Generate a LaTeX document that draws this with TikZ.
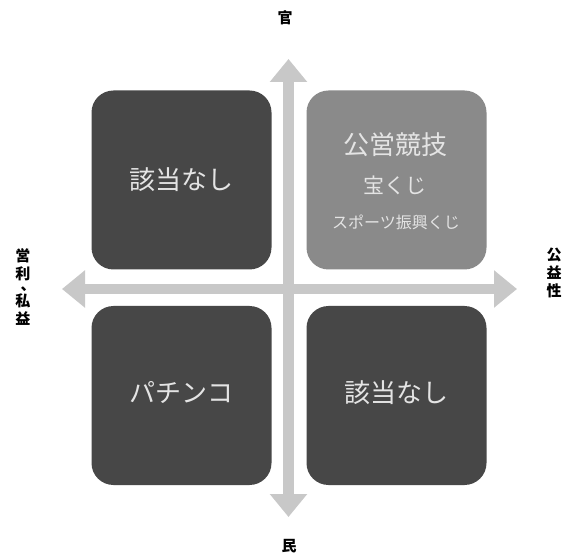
\documentclass[tikz,border=0pt]{standalone}
\usepackage{fontspec}
\setmainfont{Noto Sans CJK JP}
\usetikzlibrary{arrows.meta}
\definecolor{axisgray}{HTML}{C8C8C8}
\definecolor{darkbox}{HTML}{474747}
\definecolor{midbox}{HTML}{8A8A8A}
\definecolor{boxtext}{HTML}{E4E4E4}
\begin{document}
\begin{tikzpicture}[x=1pt,y=-1pt,
  axisline/.style={draw=axisgray,line width=11pt,
    arrows={Triangle[width=36pt,length=23pt,fill=axisgray]-Triangle[width=36pt,length=23pt,fill=axisgray]}},
  quad/.style={rounded corners=22pt,minimum width=180pt,minimum height=179pt,inner sep=0pt,text=boxtext},
  bigtxt/.style={font=\fontsize{26}{30}\selectfont,text=boxtext,inner sep=0pt},
  axlabel/.style={font=\fontsize{15}{17}\selectfont\bfseries,text=black,inner sep=0pt,align=center}]
\useasboundingbox (0,0) rectangle (571,556);
\fill[white] (0,0) rectangle (571,556);
% axis end points
\coordinate (top) at (288.5,59);
\coordinate (bottom) at (288.5,517);
\coordinate (left) at (62,289);
\coordinate (right) at (517,289);
\draw[axisline] (bottom) -- (top);
\draw[axisline,line width=10pt] (left) -- (right);
% quadrants
\node[quad,fill=darkbox] (tl) at (181.5,180) {};
\node[quad,fill=midbox] (tr) at (396.5,180) {};
\node[quad,fill=darkbox] (bl) at (181.5,395.5) {};
\node[quad,fill=darkbox] (br) at (396.5,395.5) {};
\node[bigtxt] (tltext) at (tl.center) {該当なし};
\node[bigtxt] (bltext) at (181.5,393) {パチンコ};
\node[bigtxt] (brtext) at (396.5,393) {該当なし};
\node[bigtxt] (tr1) at (395,145) {公営競技};
\node[inner sep=0pt,text=boxtext,font=\fontsize{21}{24}\selectfont] (tr2) at (395,185) {宝くじ};
\node[inner sep=0pt,text=boxtext,font=\fontsize{16}{18}\selectfont] (tr3) at (396,222) {スポーツ振興くじ};
% axis labels
\node[axlabel] (lblTop) at (285,18) {官};
\node[axlabel] (lblBottom) at (289,546) {民};
\node[axlabel] (lblLeft) at (23,287) {営\\[1pt]利\\[-6pt]\hspace{10pt}、\\[-1pt]私\\[1pt]益};
\node[axlabel] (lblRight) at (554,273) {公\\[1pt]益\\[1pt]性};
\end{tikzpicture}
\end{document}
